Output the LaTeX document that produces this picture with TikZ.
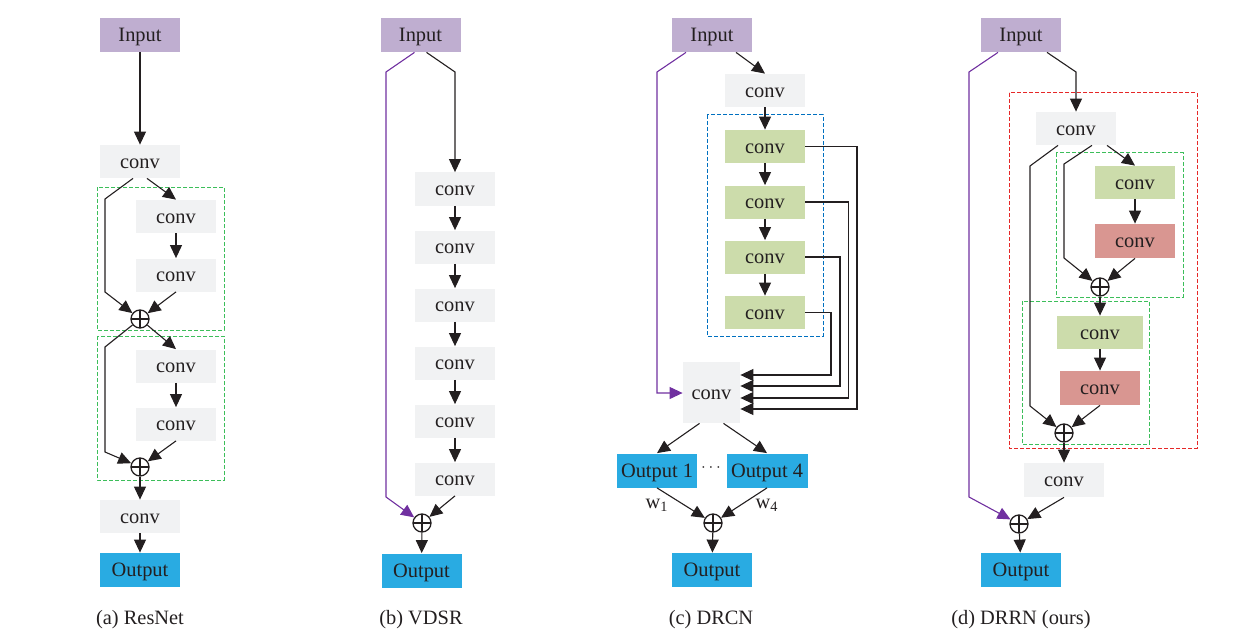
\documentclass[tikz,border=0pt]{standalone}
\usepackage{fontspec}
\setmainfont{Liberation Serif}
\usetikzlibrary{arrows.meta,calc}
\definecolor{lilac}{RGB}{191,174,208}
\definecolor{cgrey}{RGB}{241,242,243}
\definecolor{cgreen}{RGB}{204,220,171}
\definecolor{cred}{RGB}{217,150,145}
\definecolor{cblue}{RGB}{41,171,226}
\definecolor{lpurple}{RGB}{112,48,160}
\definecolor{dgreen}{RGB}{60,190,90}
\definecolor{dblue}{RGB}{0,112,192}
\definecolor{dred}{RGB}{230,40,40}
\definecolor{txt}{RGB}{35,31,32}
\begin{document}
\begin{tikzpicture}[x=0.5pt,y=-0.5pt,
  bx/.style={inner sep=0pt, minimum width=40pt, minimum height=16.5pt, text=txt,
    text height=0.72em, text depth=0.04em,
    font=\fontsize{10.2pt}{12pt}\selectfont},
  inp/.style={bx, fill=lilac, minimum height=17pt},
  cv/.style={bx, fill=cgrey},
  gcv/.style={bx, fill=cgreen},
  rcv/.style={bx, fill=cred, minimum height=17pt},
  outp/.style={bx, fill=cblue, minimum height=17pt},
  plusn/.style={circle, draw=txt, line width=0.65pt, minimum size=9pt, inner sep=0pt,
    path picture={\draw[line width=0.55pt] (path picture bounding box.north) -- (path picture bounding box.south)
      (path picture bounding box.west) -- (path picture bounding box.east);}},
  arr/.style={-{Triangle[length=6.5pt,width=6pt]}, line width=0.55pt, draw=txt},
  parr/.style={-{Triangle[length=6.5pt,width=6pt]}, line width=0.55pt, draw=lpurple},
  gbox/.style={draw=dgreen, line width=0.5pt, dash pattern=on 2pt off 1pt},
  bbox/.style={draw=dblue, line width=0.5pt, dash pattern=on 2pt off 1pt},
  rbox/.style={draw=dred, line width=0.5pt, dash pattern=on 2pt off 1pt},
  captxt/.style={text=txt, font=\fontsize{10.2pt}{12pt}\selectfont, inner sep=0pt}
]
\useasboundingbox (0,0) rectangle (1248,642);

% ---------------- (a) ResNet ----------------
\draw[gbox] (97,187) rectangle (224,330);
\draw[gbox] (97,336) rectangle (224,480);
\node[inp] (aIn) at (140,35) {Input};
\node[cv] (aC1) at (140,161.5) {conv};
\node[cv] (aC2) at (176,216.5) {conv};
\node[cv] (aC3) at (176,275) {conv};
\node[plusn] (aP1) at (140,319) {};
\node[cv] (aC4) at (176,366) {conv};
\node[cv] (aC5) at (176,424) {conv};
\node[plusn] (aP2) at (140,467) {};
\node[cv] (aC6) at (140,516.5) {conv};
\node[outp] (aOut) at (140,570) {Output};
\node[captxt] (aCap) at (140,620) {(a) ResNet};
\draw[arr] (aIn) -- (aC1);
\draw[arr] ($(aC1.south)+(-7,0)$) -- (105,199) -- (105,292) -- (aP1);
\draw[arr] ($(aC1.south)+(7,0)$) -- (aC2.north);
\draw[arr] (aC2) -- (aC3);
\draw[arr] (aC3.south) -- (aP1);
\draw[arr] (aP1) -- (105,347) -- (105,452) -- (aP2);
\draw[arr] (aP1) -- (aC4.north);
\draw[arr] (aC4) -- (aC5);
\draw[arr] (aC5.south) -- (aP2);
\draw[arr] (aP2) -- (aC6);
\draw[arr] (aC6) -- (aOut);

% ---------------- (b) VDSR ----------------
\node[inp] (bIn) at (420.5,35) {Input};
\node[cv] (bC1) at (455,189) {conv};
\node[cv] (bC2) at (455,247) {conv};
\node[cv] (bC3) at (455,305) {conv};
\node[cv] (bC4) at (455,363) {conv};
\node[cv] (bC5) at (455,421) {conv};
\node[cv] (bC6) at (455,479) {conv};
\node[plusn] (bP) at (422,523) {};
\node[outp] (bOut) at (421.5,570.5) {Output};
\node[captxt] (bCap) at (421,620) {(b) VDSR};
\draw[arr] ($(bIn.south)+(6,0)$) -- (455,72) -- (bC1.north);
\draw[parr] ($(bIn.south)+(-6,0)$) -- (386,72) -- (386,497) -- (bP);
\draw[arr] (bC1) -- (bC2);
\draw[arr] (bC2) -- (bC3);
\draw[arr] (bC3) -- (bC4);
\draw[arr] (bC4) -- (bC5);
\draw[arr] (bC5) -- (bC6);
\draw[arr] (bC6.south) -- (bP);
\draw[arr] (bP) -- (bOut);

% ---------------- (c) DRCN ----------------
\draw[bbox] (707,115) rectangle (823,336);
\node[inp] (cIn) at (712,35) {Input};
\node[cv] (cC0) at (765,90.5) {conv};
\node[gcv] (cG1) at (765,146.5) {conv};
\node[gcv] (cG2) at (765,202) {conv};
\node[gcv] (cG3) at (765,257) {conv};
\node[gcv] (cG4) at (765,312.5) {conv};
\node[cv, minimum width=28.5pt, minimum height=30.5pt] (cM) at (711.5,392.5) {conv};
\node[outp] (cO1) at (657,470.5) {Output 1};
\node[outp, minimum width=40.5pt] (cO4) at (767,470.5) {Output 4};
\node[captxt, font=\fontsize{8pt}{10pt}\selectfont] (cDots) at (711,468) {$\cdots$};
\node[plusn] (cP) at (713,523) {};
\node[outp] (cOut) at (712,570) {Output};
\node[captxt] (cCap) at (711,620) {(c) DRCN};
\draw[arr] ($(cIn.south)+(24,0)$) -- (cC0.north);
\draw[parr] ($(cIn.south)+(-26,0)$) -- (657,72) -- (657,393) -- (cM.west |- 0,393);
\draw[arr] (cC0) -- (cG1);
\draw[arr] (cG1) -- (cG2);
\draw[arr] (cG2) -- (cG3);
\draw[arr] (cG3) -- (cG4);
\draw[arr] (cG1.east) -- (857,146.5) -- (857,409) -- (cM.east |- 0,409);
\draw[arr] (cG2.east) -- (848.5,202) -- (848.5,398) -- (cM.east |- 0,398);
\draw[arr] (cG3.east) -- (840,257) -- (840,386) -- (cM.east |- 0,386);
\draw[arr] (cG4.east) -- (831,312.5) -- (831,375) -- (cM.east |- 0,375);
\draw[arr] ($(cM.south)+(-12,0)$) -- (cO1.north);
\draw[arr] ($(cM.south)+(12,0)$) -- (cO4.north);
\node[captxt] (cW1) at (657,505) {w\textsubscript{1}};
\node[captxt] (cW4) at (767,505) {w\textsubscript{4}};
\draw[arr] (cO1.south) -- (cP);
\draw[arr] (cO4.south) -- (cP);
\draw[arr] (cP) -- (cOut);

% ---------------- (d) DRRN ----------------
\draw[rbox] (1009,93) rectangle (1197,448);
\draw[gbox] (1056,153) rectangle (1183,297);
\draw[gbox] (1022,301) rectangle (1149,444);
\node[inp] (dIn) at (1021,35) {Input};
\node[cv] (dC0) at (1076,128.5) {conv};
\node[gcv] (dG1) at (1135,182.5) {conv};
\node[rcv] (dR1) at (1135,241) {conv};
\node[plusn] (dP1) at (1100,287) {};
\node[gcv, minimum width=43pt] (dG2) at (1100,332.5) {conv};
\node[rcv] (dR2) at (1100,388) {conv};
\node[plusn] (dP2) at (1064,433) {};
\node[cv, minimum height=17pt] (dC1) at (1064,480) {conv};
\node[plusn] (dP3) at (1019,524) {};
\node[outp] (dOut) at (1021,570) {Output};
\node[captxt] (dCap) at (1021,620) {(d) DRRN (ours)};
\draw[arr] ($(dIn.south)+(26,0)$) -- (1076,72) -- (dC0.north);
\draw[parr] ($(dIn.south)+(-23,0)$) -- (969,72) -- (969,497) -- (dP3);
\draw[arr] ($(dC0.south)+(-18,0)$) -- (1030,166) -- (1030,406) -- (dP2);
\draw[arr] ($(dC0.south)+(16,0)$) -- (1064,164) -- (1064,258) -- (dP1);
\draw[arr] ($(dC0.south)+(31,0)$) -- (dG1.north);
\draw[arr] (dG1) -- (dR1);
\draw[arr] (dR1.south) -- (dP1);
\draw[arr] (dP1) -- (dG2);
\draw[arr] (dG2) -- (dR2);
\draw[arr] (dR2.south) -- (dP2);
\draw[arr] (dP2) -- (dC1);
\draw[arr] (dC1.south) -- (dP3);
\draw[arr] (dP3) -- (dOut);
\end{tikzpicture}
\end{document}
